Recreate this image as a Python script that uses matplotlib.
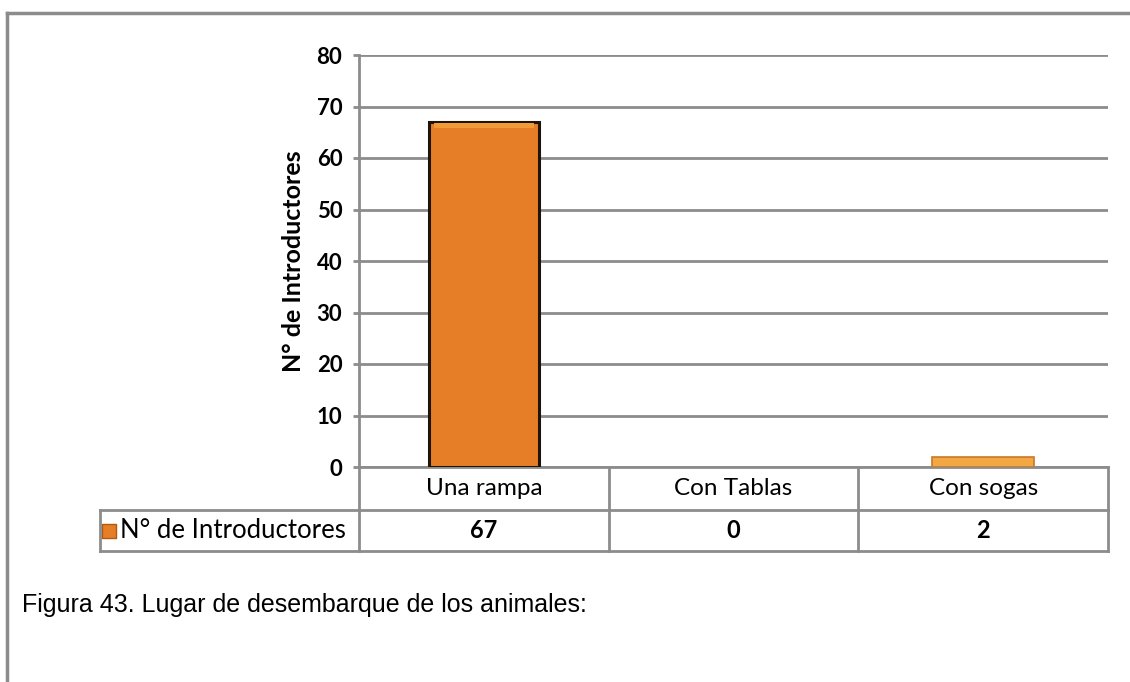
import numpy as np
import matplotlib.pyplot as plt
import matplotlib.transforms as mtransforms

categories = ['Una rampa', 'Con Tablas', 'Con sogas']
values = [67, 0, 2]
series_name = 'N° de Introductores'
y_ticks = [0, 10, 20, 30, 40, 50, 60, 70, 80]
caption = 'Figura 43. Lugar de desembarque de los animales:'

GRID = '#8c8c8c'
ORANGE = '#E57E27'

fig = plt.figure(figsize=(11.3, 6.82), dpi=100)
ax = fig.add_axes([359 / 1130, 1 - 467 / 682, 749 / 1130, 412 / 682])

x = np.arange(len(categories))
for xi, v in zip(x, values):
    if v == 0:
        continue
    if v > 5:
        ax.bar(xi, v, width=0.44, color=ORANGE, edgecolor='#1e1408', linewidth=2.2, zorder=3)
        # lighter top band
        ax.bar(xi, 1.0, bottom=v - 1.2, width=0.40, color='#F39A38', linewidth=0, zorder=4)
    else:
        ax.bar(xi, v, width=0.41, color='#F4A843', edgecolor='#C8782A', linewidth=1.2, zorder=3)

ax.set_xlim(-0.5, len(categories) - 0.5)
ax.set_ylim(0, 80)
ax.set_yticks(y_ticks)
ax.set_yticklabels([str(t) for t in y_ticks], fontfamily='Lato', fontweight='bold', fontsize=16)
ax.tick_params(axis='y', length=4, width=2, color=GRID, pad=8)
ax.set_xticks([])
ax.grid(axis='y', color=GRID, linewidth=2, zorder=0)
for s in ['top', 'right', 'bottom']:
    ax.spines[s].set_visible(False)
ax.spines['left'].set_color(GRID)
ax.spines['left'].set_linewidth(2)
ax.set_ylabel(series_name, fontfamily='Lato', fontweight='bold', fontsize=18, labelpad=8)

# data table below the axes (x in data units, y in axes fraction)
trans = mtransforms.blended_transform_factory(ax.transData, ax.transAxes)
r1 = -43 / 412
r2 = -84 / 412
xl = -0.5 - 259 * len(categories) / 749
edges = np.arange(len(categories) + 1) - 0.5
kw = dict(color=GRID, linewidth=2, transform=trans, clip_on=False)
ax.plot([edges[0], edges[-1]], [0, 0], **kw)
ax.plot([xl, edges[-1]], [r1, r1], **kw)
ax.plot([xl, edges[-1]], [r2, r2], **kw)
ax.plot([xl, xl], [r1, r2], **kw)
for e in edges:
    ax.plot([e, e], [0, r2], **kw)
for xi, cat, v in zip(x, categories, values):
    ax.text(xi, r1 / 2, cat, transform=trans, ha='center', va='center',
            fontfamily='Lato', fontsize=17.5)
    ax.text(xi, (r1 + r2) / 2, str(v), transform=trans, ha='center', va='center',
            fontfamily='Lato', fontweight='bold', fontsize=17)

# legend key in the row header
ax.scatter([xl + 0.035], [(r1 + r2) / 2], marker='s', s=90, color=ORANGE,
           edgecolor='#B05A10', transform=trans, clip_on=False)
ax.text(xl + 0.08, (r1 + r2) / 2, series_name, transform=trans, ha='left', va='center',
        fontfamily='Lato', fontsize=18.5)

# caption and outer frame
fig.text(22 / 1130, 1 - 605 / 682, caption, fontfamily='Liberation Sans', fontsize=18,
         ha='left', va='center')
fig.add_artist(plt.Line2D([7 / 1130, 7 / 1130], [0.003, 1 - 13 / 682], color=GRID, linewidth=2.5))
fig.add_artist(plt.Line2D([7 / 1130, 1.0], [1 - 13 / 682, 1 - 13 / 682], color=GRID, linewidth=2.5))

fig.savefig('out.png', dpi=100)
